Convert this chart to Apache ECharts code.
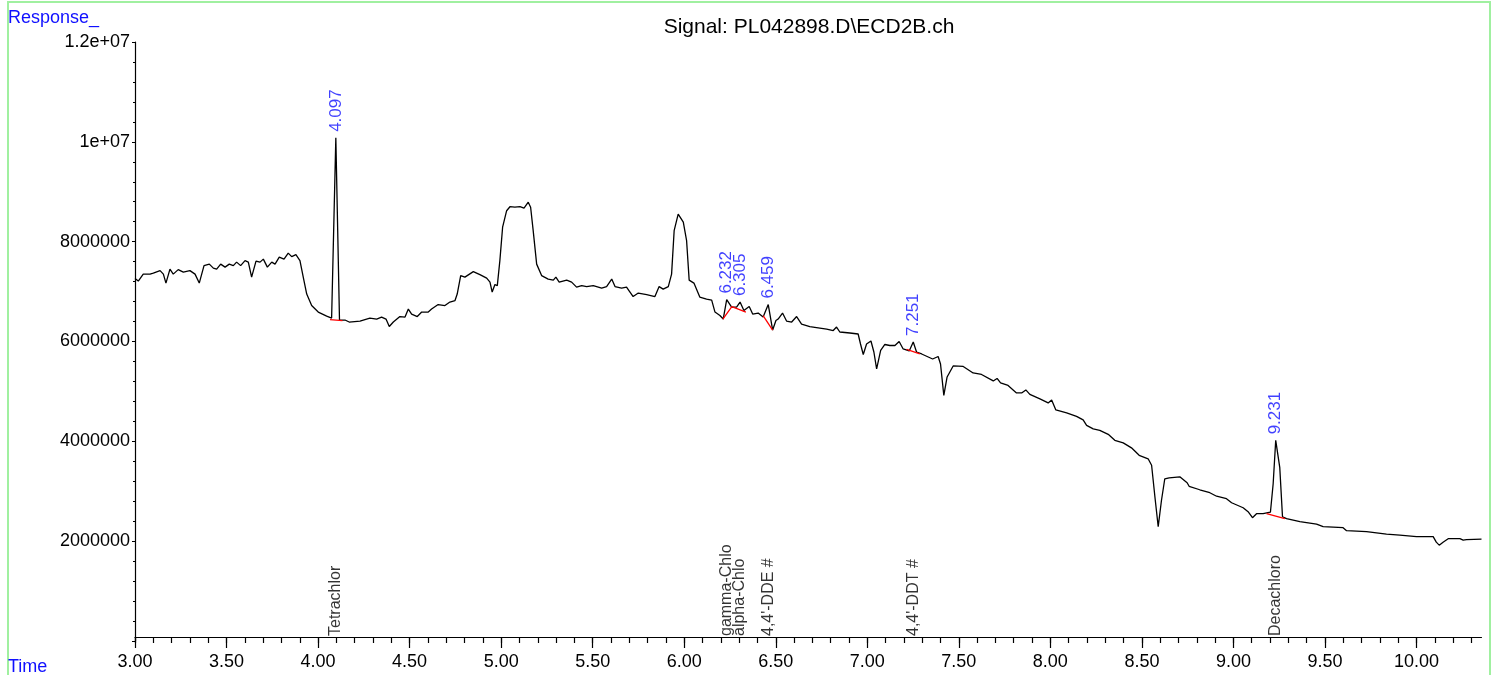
<!DOCTYPE html>
<html>
<head>
<meta charset="utf-8">
<script src="https://cdn.jsdelivr.net/npm/echarts@6/dist/echarts.min.js"></script>
<style>
html,body{margin:0;padding:0;background:#fff;}
#chart{width:1498px;height:675px;}
</style>
</head>
<body>
<div id="chart"></div>
<script>
// retention time (min)
const rt = [3.000,3.018,3.045,3.082,3.100,3.137,3.155,3.169,3.191,3.209,3.236,3.264,3.300,3.328,3.351,3.377,3.406,3.428,3.446,3.468,3.492,3.515,3.537,3.555,3.577,3.601,3.619,3.637,3.661,3.683,3.701,3.723,3.747,3.765,3.788,3.814,3.837,3.856,3.879,3.901,3.919,3.938,3.965,4.001,4.047,4.074,4.080,4.097,4.117,4.147,4.170,4.229,4.283,4.320,4.347,4.371,4.389,4.411,4.447,4.475,4.493,4.511,4.542,4.566,4.602,4.620,4.656,4.693,4.720,4.748,4.760,4.779,4.802,4.848,4.884,4.921,4.939,4.951,4.966,4.979,4.993,5.008,5.030,5.048,5.075,5.103,5.125,5.148,5.161,5.175,5.194,5.221,5.257,5.285,5.299,5.317,5.358,5.385,5.412,5.440,5.467,5.503,5.549,5.576,5.604,5.622,5.658,5.685,5.700,5.721,5.749,5.795,5.840,5.863,5.885,5.913,5.931,5.945,5.967,5.995,6.013,6.027,6.053,6.085,6.122,6.150,6.168,6.195,6.213,6.232,6.259,6.286,6.305,6.326,6.355,6.374,6.404,6.431,6.459,6.468,6.483,6.501,6.513,6.537,6.559,6.587,6.614,6.641,6.686,6.741,6.778,6.814,6.832,6.850,6.905,6.950,6.963,6.978,6.996,7.020,7.036,7.051,7.073,7.096,7.123,7.151,7.174,7.196,7.229,7.251,7.269,7.297,7.327,7.357,7.387,7.400,7.418,7.436,7.469,7.524,7.578,7.624,7.688,7.709,7.728,7.769,7.815,7.843,7.866,7.888,7.943,7.988,8.007,8.030,8.089,8.143,8.179,8.198,8.234,8.270,8.316,8.352,8.398,8.443,8.485,8.534,8.553,8.571,8.589,8.607,8.625,8.649,8.707,8.747,8.758,8.816,8.871,8.908,8.962,8.990,9.053,9.080,9.104,9.126,9.162,9.202,9.217,9.231,9.253,9.268,9.290,9.363,9.454,9.490,9.599,9.618,9.727,9.836,9.909,10.000,10.091,10.108,10.124,10.145,10.173,10.237,10.255,10.273,10.355];
// detector response (counts)
const response = [7.26e6,7.21e6,7.35e6,7.35e6,7.37e6,7.42e6,7.35e6,7.17e6,7.45e6,7.35e6,7.44e6,7.39e6,7.42e6,7.35e6,7.17e6,7.52e6,7.55e6,7.47e6,7.45e6,7.55e6,7.49e6,7.55e6,7.52e6,7.59e6,7.52e6,7.62e6,7.59e6,7.29e6,7.61e6,7.59e6,7.65e6,7.49e6,7.59e6,7.55e6,7.69e6,7.65e6,7.77e6,7.70e6,7.74e6,7.62e6,7.29e6,6.95e6,6.72e6,6.59e6,6.51e6,6.47e6,6.45e6,10.08e6,6.43e6,6.43e6,6.39e6,6.41e6,6.47e6,6.45e6,6.49e6,6.45e6,6.30e6,6.39e6,6.50e6,6.49e6,6.65e6,6.55e6,6.50e6,6.59e6,6.59e6,6.65e6,6.74e6,6.72e6,6.79e6,6.82e6,6.95e6,7.32e6,7.29e6,7.40e6,7.34e6,7.27e6,7.19e6,6.99e6,7.14e6,7.12e6,7.62e6,8.29e6,8.62e6,8.70e6,8.69e6,8.70e6,8.67e6,8.79e6,8.69e6,8.22e6,7.55e6,7.32e6,7.25e6,7.23e6,7.29e6,7.19e6,7.23e6,7.19e6,7.09e6,7.12e6,7.10e6,7.12e6,7.07e6,7.10e6,7.25e6,7.10e6,7.07e6,7.09e6,7.01e6,6.90e6,6.97e6,6.94e6,6.90e6,7.10e6,7.05e6,7.10e6,7.35e6,8.22e6,8.55e6,8.39e6,8.02e6,7.23e6,7.17e6,6.89e6,6.85e6,6.83e6,6.59e6,6.52e6,6.45e6,6.84e6,6.69e6,6.69e6,6.79e6,6.62e6,6.70e6,6.55e6,6.57e6,6.49e6,6.74e6,6.55e6,6.23e6,6.42e6,6.45e6,6.57e6,6.41e6,6.39e6,6.50e6,6.35e6,6.30e6,6.27e6,6.25e6,6.22e6,6.29e6,6.19e6,6.17e6,6.15e6,5.95e6,5.74e6,5.95e6,6.01e6,5.79e6,5.45e6,5.82e6,5.94e6,5.92e6,5.92e6,6.00e6,5.85e6,5.81e6,5.99e6,5.79e6,5.75e6,5.70e6,5.65e6,5.70e6,5.55e6,4.92e6,5.29e6,5.51e6,5.50e6,5.37e6,5.34e6,5.21e6,5.26e6,5.17e6,5.12e6,4.97e6,4.97e6,5.03e6,4.94e6,4.85e6,4.77e6,4.83e6,4.63e6,4.57e6,4.50e6,4.43e6,4.32e6,4.25e6,4.22e6,4.14e6,4.02e6,3.97e6,3.87e6,3.72e6,3.65e6,3.52e6,2.89e6,2.29e6,2.82e6,3.25e6,3.27e6,3.29e6,3.17e6,3.10e6,3.03e6,2.97e6,2.90e6,2.85e6,2.77e6,2.67e6,2.59e6,2.47e6,2.55e6,2.55e6,2.58e6,3.15e6,4.02e6,3.48e6,2.49e6,2.45e6,2.39e6,2.34e6,2.29e6,2.27e6,2.21e6,2.19e6,2.14e6,2.12e6,2.09e6,2.09e6,1.98e6,1.92e6,1.98e6,2.05e6,2.05e6,2.02e6,2.03e6,2.04e6];

// integrated peaks
const peakRT = [4.097, 6.232, 6.305, 6.459, 7.251, 9.231];
const peakApex = [10.08e6, 6.84e6, 6.79e6, 6.74e6, 5.99e6, 4.02e6];
const compoundNames = ['Tetrachlor', 'gamma-Chlo', 'alpha-Chlo', "4,4'-DDE #", "4,4'-DDT #", 'Decachloro'];
// integration baselines (start/end points)
const baselineRT = [[4.065, 4.133], [6.211, 6.260, 6.337], [6.431, 6.483], [7.215, 7.287], [9.181, 9.281]];
const baselineVal = [[6.44e6, 6.42e6], [6.45e6, 6.70e6, 6.59e6], [6.52e6, 6.23e6], [5.84e6, 5.75e6], [2.55e6, 2.45e6]];

// axis ticks
const xMajorTicks = [3.0, 3.5, 4.0, 4.5, 5.0, 5.5, 6.0, 6.5, 7.0, 7.5, 8.0, 8.5, 9.0, 9.5, 10.0];
const xMinorTicks = [];
for (let i = 30; i <= 103; i++) xMinorTicks.push(i / 10);
const yTickLabels = {2000000: '2000000', 4000000: '4000000', 6000000: '6000000', 8000000: '8000000', 10000000: '1e+07', 12000000: '1.2e+07'};

const FONT = 'Liberation Sans';
const X_MIN = 3.0, X_MAX = 10.355;

const signalData = rt.map((t, i) => [t, response[i]]);
const series = [{
  type: 'line', data: signalData, symbol: 'none', silent: true,
  lineStyle: {color: '#000', width: 1.3}, z: 3, animation: false
}];
baselineRT.forEach((seg, k) => {
  series.push({
    type: 'line', data: seg.map((t, j) => [t, baselineVal[k][j]]), symbol: 'none', silent: true,
    lineStyle: {color: '#ff0000', width: 1.3}, z: 4, animation: false
  });
});
series.push({
  type: 'scatter', symbolSize: 0, silent: true, animation: false,
  data: peakRT.map((t, i) => [t, peakApex[i]]),
  label: {
    show: true, position: 'top', distance: 6, rotate: 90, align: 'left', verticalAlign: 'middle',
    formatter: p => p.value[0].toFixed(3), color: '#1010ff', fontSize: 17, fontFamily: FONT
  }
});
series.push({
  type: 'scatter', symbolSize: 0, silent: true, animation: false,
  data: peakRT.map((t, i) => ({value: [t, 0], name: compoundNames[i]})),
  label: {
    show: true, position: 'top', distance: 5, rotate: 90, align: 'left', verticalAlign: 'middle',
    formatter: p => p.name, color: '#000', fontSize: 16, fontFamily: FONT
  }
});

const chart = echarts.init(document.getElementById('chart'), null, {renderer: 'canvas'});
chart.setOption({
  animation: false,
  backgroundColor: '#fff',
  grid: {left: 135, right: 16.5, top: 42, bottom: 34, containLabel: false},
  title: {
    text: 'Signal: PL042898.D\\ECD2B.ch', left: 804, top: 12, textAlign: 'center',
    textStyle: {fontSize: 21, fontWeight: 'normal', color: '#000', fontFamily: FONT}
  },
  graphic: [
    {type: 'rect', shape: {x: 8, y: 2, width: 1482, height: 720}, style: {fill: 'none', stroke: '#a0f0a0', lineWidth: 2}, silent: true},
    {type: 'text', left: 8, top: 9, style: {text: 'Response_', fill: '#1010ff', font: '18px "' + FONT + '"'}, silent: true},
    {type: 'text', left: 8, top: 658, style: {text: 'Time', fill: '#1010ff', font: '18px "' + FONT + '"'}, silent: true}
  ],
  xAxis: [{
    type: 'value', min: X_MIN, max: X_MAX, offset: -4,
    axisLine: {onZero: false, lineStyle: {color: '#000', width: 1.2}},
    axisTick: {show: true, length: 11, customValues: xMajorTicks, lineStyle: {color: '#000', width: 1.2}},
    axisLabel: {customValues: xMajorTicks, formatter: v => v.toFixed(2), color: '#000', fontSize: 18, fontFamily: FONT, margin: 16},
    splitLine: {show: false}, minorTick: {show: false}
  }, {
    type: 'value', min: X_MIN, max: X_MAX, offset: -4, position: 'bottom', gridIndex: 0,
    axisLine: {show: false, onZero: false},
    axisTick: {show: true, length: 6, customValues: xMinorTicks, lineStyle: {color: '#000', width: 1.2}},
    axisLabel: {show: false}, splitLine: {show: false}
  }],
  yAxis: {
    type: 'value', min: 0, max: 12000000, interval: 2000000,
    axisLine: {show: true, lineStyle: {color: '#000', width: 1.2}},
    axisTick: {show: true, length: 3, lineStyle: {color: '#000'}},
    minorTick: {show: true, splitNumber: 5, length: 2, lineStyle: {color: '#000'}},
    axisLabel: {formatter: v => yTickLabels[v] || '', color: '#000', fontSize: 18, fontFamily: FONT, margin: 5},
    splitLine: {show: false}
  },
  series: series
});
</script>
</body>
</html>
